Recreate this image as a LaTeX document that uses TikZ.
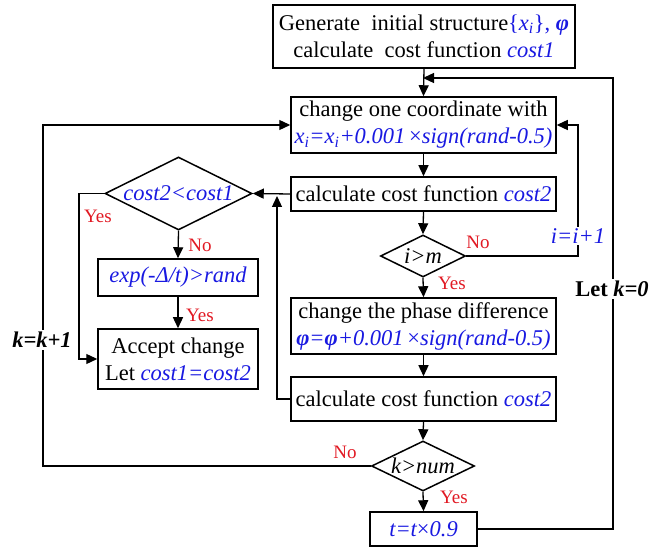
\documentclass[tikz,border=0pt]{standalone}
\usepackage{fontspec}
\setmainfont{Liberation Serif}
\usetikzlibrary{arrows.meta,shapes.geometric}
\definecolor{tb}{RGB}{25,25,225}
\definecolor{tr}{RGB}{225,25,35}
\newcommand{\bl}[1]{\textcolor{tb}{\itshape #1}}
\newcommand{\xsub}{x\textsubscript{i}}
\begin{document}
\begin{tikzpicture}[x=1pt,y=-1pt,
  font=\fontsize{22.5}{27}\selectfont,
  line width=1.3pt,
  >={Triangle[length=11pt,width=10pt]},
  box/.style={draw,line width=1.5pt,inner sep=0pt,align=center},
  dia/.style={diamond,draw,line width=1.5pt,inner sep=0pt},
  lab/.style={font=\fontsize{19}{22}\selectfont,text=tr,inner sep=0pt},
  side/.style={fill=white,inner sep=2pt}]
\useasboundingbox (0,0) rectangle (649,548);

\node[box,minimum width=302pt,minimum height=63pt] (b1) at (424,36.5)
  {Generate\ \ initial structure\textcolor{tb}{\{{\itshape \xsub}\}, \textbf{\itshape φ}}\\
   calculate\ \ cost function \bl{cost1}};
\node[box,minimum width=265pt,minimum height=56pt] (b2) at (423.5,125)
  {change one coordinate with\\
   \textcolor{tb}{\itshape \xsub=\xsub+0.001\,{\upshape ×}sign(rand-0.5)}};
\node[box,minimum width=265pt,minimum height=34pt] (b3) at (423.5,194)
  {calculate cost function \bl{cost2}};
\node[dia,shape aspect=2.02,minimum width=85pt,minimum height=42pt] (im) at (423,256) {\itshape i>m};
\node[box,minimum width=265pt,minimum height=56pt] (b4) at (423.5,326)
  {change the phase difference\\
   \textcolor{tb}{\itshape \textbf{φ}=\textbf{φ}+0.001\,{\upshape ×}sign(rand-0.5)}};
\node[box,minimum width=265pt,minimum height=44pt] (b5) at (423.5,399)
  {calculate cost function \bl{cost2}};
\node[dia,shape aspect=2.06,minimum width=103pt,minimum height=50pt] (kn) at (423,466) {\itshape k>num};
\node[box,minimum width=107pt,minimum height=34pt] (tt) at (423.5,529)
  {\bl{t=t{\upshape ×}0.9}};

\node[dia,shape aspect=2.01,minimum width=147pt,minimum height=73pt] (cc) at (178.5,193.5) {\bl{cost2<cost1}};
\node[box,minimum width=160pt,minimum height=37pt] (ex) at (178,277.5) {\bl{exp(-Δ/t)>rand}};
\node[box,minimum width=160pt,minimum height=60pt] (ac) at (178,359)
  {Accept change\\ Let \bl{cost1=cost2}};

\coordinate (fb) at (423,78);
\coordinate (up) at (277,196);

\draw[->] (b1.south) -- (b2.north);
\draw[->] (tt.east) -| (613,78) -- (fb);
\draw[->] (b2.south) -- (b3.north);
\draw[->] (b3.south) -- (im.north);
\draw[->] (im.east) -- (578,256) |- (b2.east);
\draw[->] (im.south) -- (b4.north);
\draw[->] (b4.south) -- (b5.north);
\draw[->] (b5.south) -- (kn.north);
\draw[->] (kn.south) -- (tt.north);
\draw[->] (kn.west) -- (43,466) |- (b2.west);
\draw[->] (b3.west) -- (cc.east);
\draw[->] (b5.west) -| (up);
\draw[->] (cc.south) -- (ex.north);
\draw[->] (ex.south) -- (ac.north);
\draw[->] (cc.west) -- (79,193.5) |- (ac.west);

\node[lab] (l1) at (478,242) {No};
\node[side,text=tb] (l2) at (578,236) {\itshape i=i+1};
\node[lab] (l3) at (452,283) {Yes};
\node[lab] (l4) at (345,452) {No};
\node[lab] (l5) at (454,497) {Yes};
\node[lab] (l6) at (200,245) {No};
\node[lab] (l7) at (200,315) {Yes};
\node[lab] (l8) at (98,216) {Yes};
\node[side] (l9) at (42,340) {\textbf{\itshape k=k+1}};
\node[side] (l10) at (612,289) {\textbf{Let \itshape k=0}};
\end{tikzpicture}
\end{document}
